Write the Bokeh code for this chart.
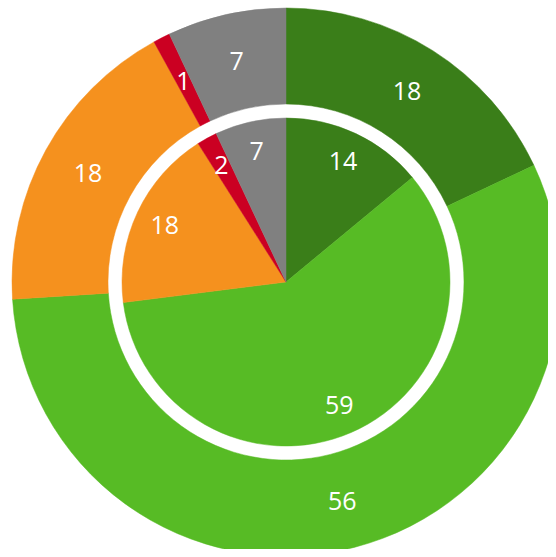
import numpy as np
from bokeh.plotting import figure
from bokeh.models import Range1d, ColumnDataSource
from bokeh.core.properties import value
from bokeh.embed import file_html
from bokeh.resources import INLINE

categories = ["A", "B", "C", "D", "E"]
colors = ["#3a7e19", "#57bb25", "#f5911e", "#cb0022", "#808080"]
outer_values = [18, 56, 18, 1, 7]
inner_values = [14, 59, 18, 2, 7]

CX, CY = 285.5, -281.5
OUT_R0, OUT_R1 = 178, 274
IN_R = 164
OUT_LABEL_R = 226
IN_LABEL_R = 134


def wedge_data(vals, label_r):
    vals = np.array(vals, dtype=float)
    total = vals.sum()
    cum = np.concatenate([[0], np.cumsum(vals)])
    start = np.deg2rad(90 - cum[:-1] / total * 360)
    end = np.deg2rad(90 - cum[1:] / total * 360)
    mid = (start + end) / 2
    return dict(
        x=[CX] * len(vals), y=[CY] * len(vals),
        start=list(start), end=list(end),
        color=colors,
        lx=list(CX + label_r * np.cos(mid)),
        ly=list(CY + label_r * np.sin(mid)),
        label=[str(int(v)) for v in vals],
    )


outer = ColumnDataSource(wedge_data(outer_values, OUT_LABEL_R))
inner = ColumnDataSource(wedge_data(inner_values, IN_LABEL_R))

p = figure(width=548, height=549, x_range=Range1d(0, 548), y_range=Range1d(-549, 0),
           x_axis_type=None, y_axis_type=None, output_backend="svg",
           toolbar_location=None, min_border=0)
p.outline_line_color = None
p.grid.visible = False
p.background_fill_color = "white"

p.annular_wedge(x="x", y="y", inner_radius=OUT_R0, outer_radius=OUT_R1,
                start_angle="start", end_angle="end", direction="clock",
                fill_color="color", line_color="color", line_width=0.5, source=outer)
p.wedge(x="x", y="y", radius=IN_R, start_angle="start", end_angle="end",
        direction="clock", fill_color="color", line_color="color", line_width=0.5,
        source=inner)

for src in (outer, inner):
    p.text(x="lx", y="ly", text="label", source=src, text_color="white",
           text_font=value("Open Sans"), text_font_size="25px",
           text_align="center", text_baseline="middle")

open("out.html", "w").write(file_html(p, INLINE))
